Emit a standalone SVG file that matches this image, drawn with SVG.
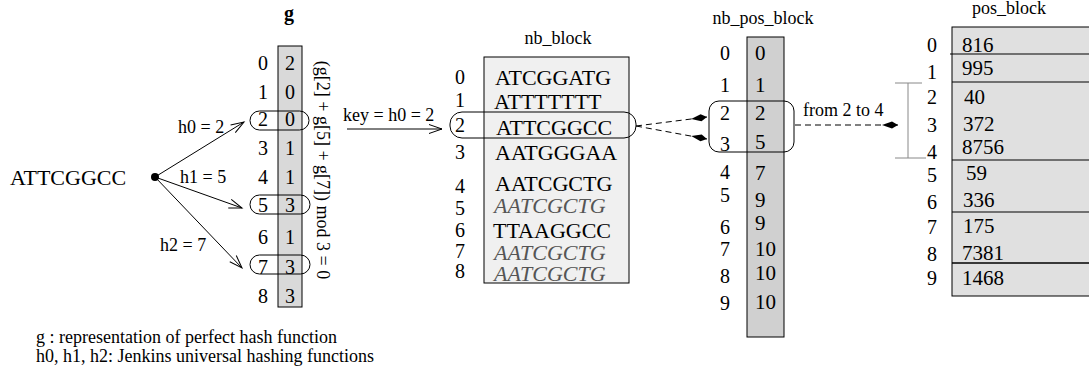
<svg xmlns="http://www.w3.org/2000/svg" width="1089" height="374" viewBox="0 0 1089 374">
<defs>
<style>
text{font-family:"Liberation Serif","Times New Roman",serif;fill:#000}
.s18{font-size:18px}
.s20{font-size:20px}
.s21{font-size:21px}
.s22{font-size:22px}
.mid{text-anchor:middle}
.it{font-style:italic;fill:#555}
.ln{stroke:#000;stroke-width:1;fill:none}
.dash{stroke:#000;stroke-width:1;fill:none;stroke-dasharray:6,4}
.box{stroke:#000;stroke-width:1}
</style>
<marker id="open" markerWidth="16" markerHeight="12" refX="0" refY="0" viewBox="-14 -6 16 12" markerUnits="userSpaceOnUse" orient="auto">
<path d="M-13,-4.5 L0,0 L-13,4.5" fill="none" stroke="#000" stroke-width="1"/>
</marker>
<marker id="kite" markerWidth="20" markerHeight="10" refX="0" refY="0" viewBox="-18 -5 20 10" markerUnits="userSpaceOnUse" orient="auto">
<path d="M0,0 L-6,-3.5 L-16,0 L-6,3.5 Z" fill="#000"/>
</marker>
</defs>
<rect width="1089" height="374" fill="#fff"/>

<g id="input">
<text class="s22" x="10" y="185">ATTCGGCC</text>
<circle cx="155" cy="177" r="4" fill="#000"/>
</g>

<g id="g_table">
<text class="s20 mid" x="289" y="20" font-weight="bold">g</text>
<rect class="box" x="278" y="46" width="24" height="261" fill="#d9d9d9"/>
<g class="s20 mid">
<text x="263" y="70">0</text><text x="290" y="70">2</text>
<text x="263" y="99">1</text><text x="290" y="99">0</text>
<text x="263" y="126">2</text><text x="290" y="126">0</text>
<text x="263" y="155">3</text><text x="290" y="155">1</text>
<text x="263" y="184">4</text><text x="290" y="184">1</text>
<text x="263" y="212">5</text><text x="290" y="212">3</text>
<text x="263" y="244">6</text><text x="290" y="244">1</text>
<text x="263" y="274">7</text><text x="290" y="274">3</text>
<text x="263" y="303">8</text><text x="290" y="303">3</text>
</g>
<rect class="ln" x="250" y="111" width="59" height="19" rx="9.5"/>
<rect class="ln" x="250" y="195" width="60" height="19" rx="9.5"/>
<rect class="ln" x="250" y="255" width="60" height="19" rx="9.5"/>
<text class="s18 mid" transform="translate(317,170) rotate(90)">(g[2] + g[5] + g[7]) mod 3 = 0</text>
</g>

<g id="nb_block">
<text class="s18 mid" x="558" y="44">nb_block</text>
<rect class="box" x="484" y="57" width="145" height="226" fill="#f0f0f0"/>
<g class="s20 mid">
<text x="460" y="84">0</text>
<text x="460" y="107">1</text>
<text x="460" y="132">2</text>
<text x="460" y="159">3</text>
<text x="460" y="193">4</text>
<text x="460" y="215">5</text>
<text x="460" y="237">6</text>
<text x="460" y="258">7</text>
<text x="460" y="278">8</text>
</g>
<g class="s22">
<text x="495" y="85">ATCGGATG</text>
<text x="494" y="109">ATTTTTTT</text>
<text x="496" y="135">ATTCGGCC</text>
<text x="495" y="160">AATGGGAA</text>
<text x="495" y="191">AATCGCTG</text>
<text class="it" x="494" y="213">AATCGCTG</text>
<text x="493" y="238">TTAAGGCC</text>
<text class="it" x="494" y="260">AATCGCTG</text>
<text class="it" x="494" y="281">AATCGCTG</text>
</g>
<rect class="ln" x="450" y="112" width="186" height="26" rx="12"/>
</g>

<g id="nb_pos_block">
<text class="s18 mid" x="763" y="24">nb_pos_block</text>
<rect class="box" x="747" y="37" width="37" height="300" fill="#d0d0d0"/>
<g class="s20 mid">
<text x="725" y="60">0</text>
<text x="725" y="92">1</text>
<text x="725" y="120">2</text>
<text x="725" y="151">3</text>
<text x="725" y="179">4</text>
<text x="725" y="202">5</text>
<text x="725" y="234">6</text>
<text x="725" y="256">7</text>
<text x="725" y="283">8</text>
<text x="725" y="310">9</text>
</g>
<g class="s21">
<text x="755" y="60">0</text>
<text x="755" y="92">1</text>
<text x="755" y="120">2</text>
<text x="755" y="149">5</text>
<text x="755" y="180">7</text>
<text x="755" y="207">9</text>
<text x="755" y="230">9</text>
<text x="755" y="256">10</text>
<text x="755" y="280">10</text>
<text x="755" y="309">10</text>
</g>
<rect class="ln" x="709" y="101" width="85" height="51" rx="10"/>
</g>

<g id="pos_block">
<text class="s18 mid" x="1009" y="14">pos_block</text>
<rect class="box" x="952" y="27" width="140" height="269" fill="#e0e0e0"/>
<g class="ln">
<line x1="950" y1="54" x2="1089" y2="54"/>
<line x1="952" y1="82" x2="1089" y2="82"/>
<line x1="952" y1="160" x2="1089" y2="160"/>
<line x1="952" y1="212" x2="1089" y2="212"/>
<line x1="952" y1="263" x2="1089" y2="263" stroke-width="1.5"/>
</g>
<g class="s20 mid">
<text x="932" y="52">0</text>
<text x="932" y="79">1</text>
<text x="932" y="104">2</text>
<text x="932" y="132">3</text>
<text x="932" y="159">4</text>
<text x="932" y="182">5</text>
<text x="932" y="209">6</text>
<text x="932" y="234">7</text>
<text x="932" y="261">8</text>
<text x="932" y="285">9</text>
</g>
<g class="s21">
<text x="962" y="52">816</text>
<text x="962" y="75">995</text>
<text x="964" y="104">40</text>
<text x="963" y="131">372</text>
<text x="962" y="154">8756</text>
<text x="966" y="180">59</text>
<text x="963" y="207">336</text>
<text x="963" y="233">175</text>
<text x="962" y="260">7381</text>
<text x="962" y="285">1468</text>
</g>
<g stroke="#888" stroke-width="1" fill="none">
<line x1="908" y1="83" x2="908" y2="158"/>
<line x1="895" y1="83" x2="922" y2="83"/>
<line x1="895" y1="158" x2="926" y2="158"/>
</g>
</g>

<g id="connectors">
<line class="ln" x1="155" y1="177" x2="244" y2="122" marker-end="url(#open)"/>
<line class="ln" x1="155" y1="177" x2="242" y2="208" marker-end="url(#open)"/>
<line class="ln" x1="155" y1="177" x2="242" y2="268" marker-end="url(#open)"/>
<line class="ln" x1="347" y1="129" x2="442" y2="129" marker-end="url(#open)"/>
<line class="dash" x1="636" y1="126" x2="707" y2="117" marker-end="url(#kite)"/>
<line class="dash" x1="636" y1="126" x2="707" y2="139" marker-end="url(#kite)"/>
<line class="dash" x1="795" y1="125" x2="898" y2="125" marker-end="url(#kite)"/>
</g>

<g id="labels" class="s18">
<text x="178" y="133">h0 = 2</text>
<text x="180" y="183">h1 = 5</text>
<text x="160" y="251">h2 = 7</text>
<text x="343" y="121">key = h0 = 2</text>
<text x="803" y="116">from 2 to 4</text>
</g>

<g id="legend" class="s18">
<text x="36" y="343">g : representation of perfect hash function</text>
<text x="36" y="362">h0, h1, h2: Jenkins universal hashing functions</text>
</g>
</svg>
